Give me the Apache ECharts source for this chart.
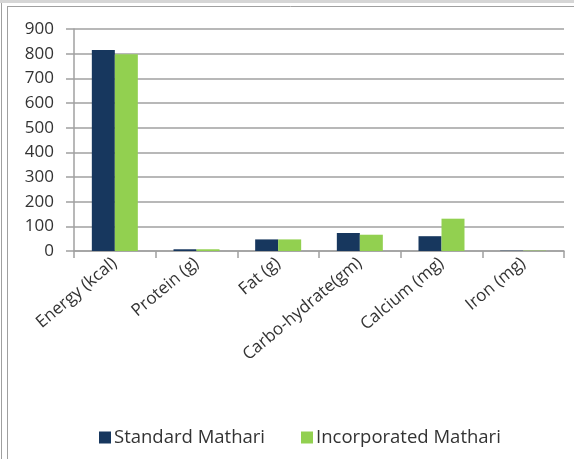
<!DOCTYPE html>
<html><head><meta charset="utf-8">
<script src="https://cdn.jsdelivr.net/npm/echarts@6/dist/echarts.min.js"></script>
<style>html,body{margin:0;padding:0;background:#fff}#c{width:574px;height:459px}</style>
</head><body><div id="c"></div>
<script>
var categories = ['Energy (kcal)', 'Protein (g)', 'Fat (g)', 'Carbo-hydrate(gm)', 'Calcium (mg)', 'Iron (mg)'];
var standardMathari = [815, 7, 47, 73, 60, 1.2];
var incorporatedMathari = [798, 7, 47, 66, 131, 1.5];
var yTicks = [0, 100, 200, 300, 400, 500, 600, 700, 800, 900];

var chart = echarts.init(document.getElementById('c'));
var font = 'Open Sans';
var txt = '#333';
chart.setOption({
  animation: false,
  textStyle: {fontFamily: font},
  grid: {left: 74, right: 10, top: 29, bottom: 208, containLabel: false},
  legend: {
    top: 423, left: 94, itemWidth: 12, itemHeight: 12, itemGap: 36,
    icon: 'rect',
    textStyle: {fontFamily: font, fontSize: 18.5, color: txt, padding: [0, 0, 0, -2]},
    data: ['Standard Mathari', 'Incorporated Mathari']
  },
  xAxis: {
    type: 'category', data: categories,
    axisLine: {lineStyle: {color: '#a0a0a0', width: 1.5}},
    axisTick: {show: true, length: 7, lineStyle: {color: '#a0a0a0', width: 1.5}},
    axisLabel: {rotate: 40, margin: 10, fontSize: 17, color: txt, fontFamily: font, interval: 0}
  },
  yAxis: {
    type: 'value', min: 0, max: 900, interval: 100,
    axisLine: {show: true, lineStyle: {color: '#a0a0a0', width: 1.5}},
    axisTick: {show: true, length: 8, lineStyle: {color: '#a0a0a0', width: 1.5}},
    splitLine: {lineStyle: {color: '#a0a0a0', width: 1.5}},
    axisLabel: {margin: 20, fontSize: 17, color: txt, fontFamily: font,
      formatter: function(v){ return yTicks.indexOf(v) >= 0 ? String(v) : ''; }}
  },
  series: [
    {name: 'Standard Mathari', type: 'bar', data: standardMathari, barWidth: 23, barGap: '0%',
     itemStyle: {color: '#17375e'}},
    {name: 'Incorporated Mathari', type: 'bar', data: incorporatedMathari, barWidth: 23, barGap: '0%',
     itemStyle: {color: '#92d050'}}
  ],
  graphic: [
    {type: 'rect', shape: {x: 0, y: 0, width: 574, height: 3}, style: {fill: '#d6d6d6'}, silent: true},
    {type: 'line', shape: {x1: 7, y1: 6.5, x2: 574, y2: 6.5}, style: {stroke: '#a0a0a0', lineWidth: 1}, silent: true},
    {type: 'line', shape: {x1: 1.5, y1: 3, x2: 1.5, y2: 459}, style: {stroke: '#a0a0a0', lineWidth: 1}, silent: true},
    {type: 'line', shape: {x1: 7.5, y1: 6, x2: 7.5, y2: 459}, style: {stroke: '#a0a0a0', lineWidth: 1}, silent: true}
  ]
});
</script></body></html>
